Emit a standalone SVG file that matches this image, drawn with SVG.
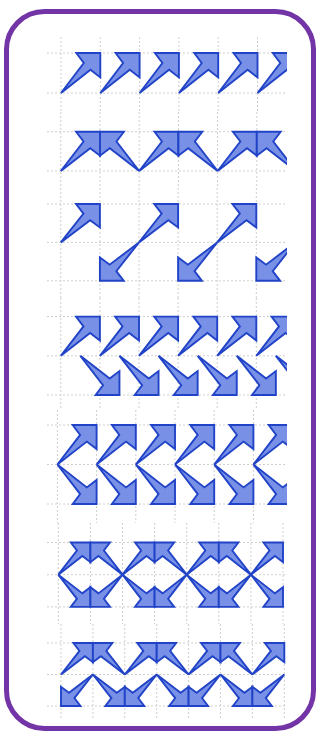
<svg xmlns="http://www.w3.org/2000/svg" xmlns:xlink="http://www.w3.org/1999/xlink" width="320" height="735" viewBox="0 0 320 735">
<style>
.g{stroke:#cfcfcf;stroke-width:1;stroke-dasharray:2 2;fill:none}
.a{fill:#7891e6;stroke:#2143c8;stroke-width:1.9;stroke-linejoin:miter;vector-effect:non-scaling-stroke}
</style>
<defs>
<polygon id="arr" class="a" points="0,1 0.58,0.25 0.39,0 1,0 1,0.61 0.75,0.42"/>
<clipPath id="clip"><rect x="46" y="30" width="241" height="695"/></clipPath>
</defs>
<rect width="320" height="735" fill="#fff"/>
<rect x="6.5" y="11.5" width="307" height="717" rx="38" fill="none" stroke="#7234a6" stroke-width="5"/>
<g id="grid" clip-path="url(#clip)">
<path class="g" d="M47,53H287M47,93H287M61,37V112M100.3,37V112M139.6,37V112M178.9,37V112M218.2,37V112M257.5,37V112"/>
<path class="g" d="M47,131.7H287M47,171H287M60.8,112V188M100,112V188M139.2,112V188M178.4,112V188M217.6,112V188M256.8,112V188"/>
<path class="g" d="M47,204H287M47,242.4H287M47,280.8H287M60.8,188V298M99.9,188V298M139,188V298M178.1,188V298M217.2,188V298M256.3,188V298"/>
<path class="g" d="M47,316.6H287M47,355.8H287M47,395H287M60.8,298V410M99.9,298V410M139,298V410M178.1,298V410M217.2,298V410M256.3,298V410"/>
<path class="g" d="M47,425H287M47,464.5H287M47,504H287M57.4,410V523M96.6,410V523M135.8,410V523M175,410V523M214.2,410V523M253.4,410V523"/>
<path class="g" d="M47,542.5H287M47,574.7H287M47,606.9H287M58.3,523V624M90.4,523V624M122.5,523V624M154.6,523V624M186.7,523V624M218.8,523V624M250.9,523V624M283,523V624"/>
<path class="g" d="M47,643H287M47,674.5H287M47,706H287M61,624V720M92.9,624V720M124.8,624V720M156.7,624V720M188.6,624V720M220.5,624V720M252.4,624V720M284.3,624V720"/>
</g>
<g id="arrows" clip-path="url(#clip)">
<g id="row1">
<use xlink:href="#arr" transform="translate(61,53) scale(39.3,40)"/>
<use xlink:href="#arr" transform="translate(100.3,53) scale(39.3,40)"/>
<use xlink:href="#arr" transform="translate(139.6,53) scale(39.3,40)"/>
<use xlink:href="#arr" transform="translate(178.9,53) scale(39.3,40)"/>
<use xlink:href="#arr" transform="translate(218.2,53) scale(39.3,40)"/>
<use xlink:href="#arr" transform="translate(257.5,53) scale(39.3,40)"/>
</g>
<g id="row2">
<use xlink:href="#arr" transform="translate(60.8,131.7) scale(39.2,39.3)"/>
<use xlink:href="#arr" transform="translate(139.2,131.7) scale(-39.2,39.3)"/>
<use xlink:href="#arr" transform="translate(139.2,131.7) scale(39.2,39.3)"/>
<use xlink:href="#arr" transform="translate(217.6,131.7) scale(-39.2,39.3)"/>
<use xlink:href="#arr" transform="translate(217.6,131.7) scale(39.2,39.3)"/>
<use xlink:href="#arr" transform="translate(296,131.7) scale(-39.2,39.3)"/>
</g>
<g id="row3">
<use xlink:href="#arr" transform="translate(60.8,204) scale(39.1,38.4)"/>
<use xlink:href="#arr" transform="translate(139,280.8) scale(-39.1,-38.4)"/>
<use xlink:href="#arr" transform="translate(139,204) scale(39.1,38.4)"/>
<use xlink:href="#arr" transform="translate(217.2,280.8) scale(-39.1,-38.4)"/>
<use xlink:href="#arr" transform="translate(217.2,204) scale(39.1,38.4)"/>
<use xlink:href="#arr" transform="translate(295.4,280.8) scale(-39.1,-38.4)"/>
</g>
<g id="row4">
<use xlink:href="#arr" transform="translate(60.8,316.6) scale(39.1,39.2)"/>
<use xlink:href="#arr" transform="translate(99.9,316.6) scale(39.1,39.2)"/>
<use xlink:href="#arr" transform="translate(139,316.6) scale(39.1,39.2)"/>
<use xlink:href="#arr" transform="translate(178.1,316.6) scale(39.1,39.2)"/>
<use xlink:href="#arr" transform="translate(217.2,316.6) scale(39.1,39.2)"/>
<use xlink:href="#arr" transform="translate(256.3,316.6) scale(39.1,39.2)"/>
<use xlink:href="#arr" transform="translate(80.35,395) scale(39.1,-39.2)"/>
<use xlink:href="#arr" transform="translate(119.45,395) scale(39.1,-39.2)"/>
<use xlink:href="#arr" transform="translate(158.55,395) scale(39.1,-39.2)"/>
<use xlink:href="#arr" transform="translate(197.65,395) scale(39.1,-39.2)"/>
<use xlink:href="#arr" transform="translate(236.75,395) scale(39.1,-39.2)"/>
<use xlink:href="#arr" transform="translate(275.85,395) scale(39.1,-39.2)"/>
</g>
<g id="row5">
<use xlink:href="#arr" transform="translate(57.4,425) scale(39.2,39.5)"/>
<use xlink:href="#arr" transform="translate(96.6,425) scale(39.2,39.5)"/>
<use xlink:href="#arr" transform="translate(135.8,425) scale(39.2,39.5)"/>
<use xlink:href="#arr" transform="translate(175,425) scale(39.2,39.5)"/>
<use xlink:href="#arr" transform="translate(214.2,425) scale(39.2,39.5)"/>
<use xlink:href="#arr" transform="translate(253.4,425) scale(39.2,39.5)"/>
<use xlink:href="#arr" transform="translate(57.4,504) scale(39.2,-39.5)"/>
<use xlink:href="#arr" transform="translate(96.6,504) scale(39.2,-39.5)"/>
<use xlink:href="#arr" transform="translate(135.8,504) scale(39.2,-39.5)"/>
<use xlink:href="#arr" transform="translate(175,504) scale(39.2,-39.5)"/>
<use xlink:href="#arr" transform="translate(214.2,504) scale(39.2,-39.5)"/>
<use xlink:href="#arr" transform="translate(253.4,504) scale(39.2,-39.5)"/>
</g>
<g id="row6">
<use xlink:href="#arr" transform="translate(58.3,542.5) scale(32.1,32.2)"/>
<use xlink:href="#arr" transform="translate(122.5,542.5) scale(-32.1,32.2)"/>
<use xlink:href="#arr" transform="translate(58.3,606.9) scale(32.1,-32.2)"/>
<use xlink:href="#arr" transform="translate(122.5,606.9) scale(-32.1,-32.2)"/>
<use xlink:href="#arr" transform="translate(122.5,542.5) scale(32.1,32.2)"/>
<use xlink:href="#arr" transform="translate(186.7,542.5) scale(-32.1,32.2)"/>
<use xlink:href="#arr" transform="translate(122.5,606.9) scale(32.1,-32.2)"/>
<use xlink:href="#arr" transform="translate(186.7,606.9) scale(-32.1,-32.2)"/>
<use xlink:href="#arr" transform="translate(186.7,542.5) scale(32.1,32.2)"/>
<use xlink:href="#arr" transform="translate(250.9,542.5) scale(-32.1,32.2)"/>
<use xlink:href="#arr" transform="translate(186.7,606.9) scale(32.1,-32.2)"/>
<use xlink:href="#arr" transform="translate(250.9,606.9) scale(-32.1,-32.2)"/>
<use xlink:href="#arr" transform="translate(250.9,542.5) scale(32.1,32.2)"/>
<use xlink:href="#arr" transform="translate(250.9,606.9) scale(32.1,-32.2)"/>
</g>
<g id="row7">
<use xlink:href="#arr" transform="translate(61,643) scale(31.9,31.5)"/>
<use xlink:href="#arr" transform="translate(124.8,643) scale(-31.9,31.5)"/>
<use xlink:href="#arr" transform="translate(124.8,643) scale(31.9,31.5)"/>
<use xlink:href="#arr" transform="translate(188.6,643) scale(-31.9,31.5)"/>
<use xlink:href="#arr" transform="translate(188.6,643) scale(31.9,31.5)"/>
<use xlink:href="#arr" transform="translate(252.4,643) scale(-31.9,31.5)"/>
<use xlink:href="#arr" transform="translate(252.4,643) scale(31.9,31.5)"/>
<use xlink:href="#arr" transform="translate(92.9,706) scale(-31.9,-31.5)"/>
<use xlink:href="#arr" transform="translate(92.9,706) scale(31.9,-31.5)"/>
<use xlink:href="#arr" transform="translate(156.7,706) scale(-31.9,-31.5)"/>
<use xlink:href="#arr" transform="translate(156.7,706) scale(31.9,-31.5)"/>
<use xlink:href="#arr" transform="translate(220.5,706) scale(-31.9,-31.5)"/>
<use xlink:href="#arr" transform="translate(220.5,706) scale(31.9,-31.5)"/>
<use xlink:href="#arr" transform="translate(284.3,706) scale(-31.9,-31.5)"/>
</g>
</g>
</svg>
